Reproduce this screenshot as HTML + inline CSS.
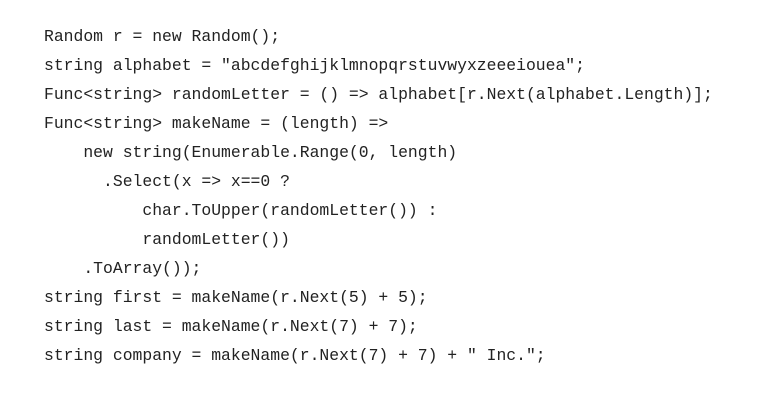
<!DOCTYPE html>
<html><head><meta charset="utf-8"><style>
html,body{margin:0;padding:0;background:#fff;}
body{width:758px;height:416px;overflow:hidden;}
pre{position:absolute;left:44px;top:22px;margin:0;font-family:"Liberation Mono","DejaVu Sans Mono",monospace;font-size:16.4px;line-height:29px;color:#222;}
</style></head><body>
<pre>Random r = new Random();
string alphabet = "abcdefghijklmnopqrstuvwyxzeeeiouea";
Func&lt;string&gt; randomLetter = () =&gt; alphabet[r.Next(alphabet.Length)];
Func&lt;string&gt; makeName = (length) =&gt;
    new string(Enumerable.Range(0, length)
      .Select(x =&gt; x==0 ?
          char.ToUpper(randomLetter()) :
          randomLetter())
    .ToArray());
string first = makeName(r.Next(5) + 5);
string last = makeName(r.Next(7) + 7);
string company = makeName(r.Next(7) + 7) + " Inc.";</pre>
</body></html>
